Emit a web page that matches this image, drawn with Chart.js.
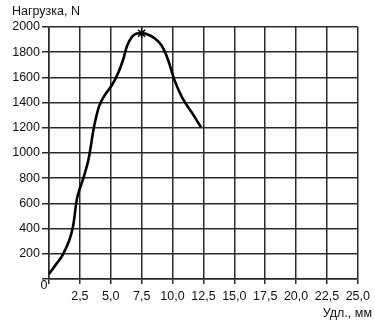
<!DOCTYPE html>
<html><head><meta charset="utf-8">
<script src="https://cdn.jsdelivr.net/npm/chart.js@4"></script>
<style>html,body{margin:0;padding:0;background:#fff}#wrap{width:375px;height:322px}</style>
</head><body><div id="wrap"><canvas id="c"></canvas></div>
<script>
const elongationMm = [0, 0.6, 1.1, 1.65, 1.95, 2.25, 2.45, 2.75, 3.2, 3.65, 4.05, 4.45, 5.1, 5.6, 6.0, 6.3, 6.7, 7.0, 7.5, 8.0, 8.55, 9.1, 9.6, 10.15, 10.8, 11.6, 12.3];
const loadN =       [40, 120, 190, 310, 420, 630, 705, 790, 950, 1210, 1370, 1450, 1540, 1635, 1740, 1845, 1920, 1945, 1950, 1940, 1910, 1855, 1750, 1580, 1435, 1315, 1205];
const xTicks = [0, 2.5, 5, 7.5, 10, 12.5, 15, 17.5, 20, 22.5, 25];
const yTicks = [0, 200, 400, 600, 800, 1000, 1200, 1400, 1600, 1800, 2000];
const yTitle = 'Нагрузка, N';
const xTitle = 'Удл., мм';
const peakIndex = 18;

const FONT = '"Liberation Sans", Arial, sans-serif';
const GRID = '#2a2a2a';

const textPlugin = {
  id: 'texts',
  afterDraw(chart) {
    const ctx = chart.ctx, a = chart.chartArea;
    ctx.save();
    ctx.fillStyle = '#111';
    ctx.font = '12.5px ' + FONT;
    ctx.textBaseline = 'middle';
    ctx.textAlign = 'left';
    ctx.fillText(yTitle, 12, 12);
    ctx.textAlign = 'right';
    ctx.fillText(xTitle, 372, 314);
    ctx.textAlign = 'center';
    ctx.fillText('0', a.left - 5, a.bottom + 7);
    ctx.restore();
  }
};

new Chart(document.getElementById('c'), {
  type: 'line',
  data: {
    datasets: [{
      data: elongationMm.map((x, i) => ({x, y: loadN[i]})),
      borderColor: '#000',
      borderWidth: 2.6,
      tension: 0.35,
      fill: false,
      pointRadius: elongationMm.map((_, i) => i === peakIndex ? 5 : 0),
      pointStyle: 'star',
      pointBorderColor: '#000',
      pointBorderWidth: 1.5
    }]
  },
  options: {
    responsive: true,
    maintainAspectRatio: false,
    animation: false,
    layout: { padding: { left: 0, top: 27, right: 13, bottom: 0 } },
    plugins: { legend: { display: false }, tooltip: { enabled: false } },
    scales: {
      x: {
        type: 'linear', min: 0, max: 25,
        afterBuildTicks: s => { s.ticks = xTicks.map(v => ({value: v})); },
        afterFit: s => { s.height = 43; },
        grid: { color: GRID, lineWidth: 1.5, tickLength: 5, drawTicks: true },
        border: { color: GRID, width: 1.5 },
        ticks: {
          color: '#111', font: { size: 12.5, family: FONT }, padding: 5, maxRotation: 0,
          callback: v => v === 0 ? '' : v.toFixed(1).replace('.', ',')
        }
      },
      y: {
        type: 'linear', min: 0, max: 2000,
        afterBuildTicks: s => { s.ticks = yTicks.map(v => ({value: v})); },
        afterFit: s => { s.width = 49; },
        grid: { color: GRID, lineWidth: 1.5, tickLength: 7 },
        border: { color: GRID, width: 1.5 },
        ticks: {
          color: '#111', font: { size: 12.5, family: FONT }, padding: 2,
          callback: v => v === 0 ? '' : String(v)
        }
      }
    }
  },
  plugins: [textPlugin]
});
</script></body></html>
